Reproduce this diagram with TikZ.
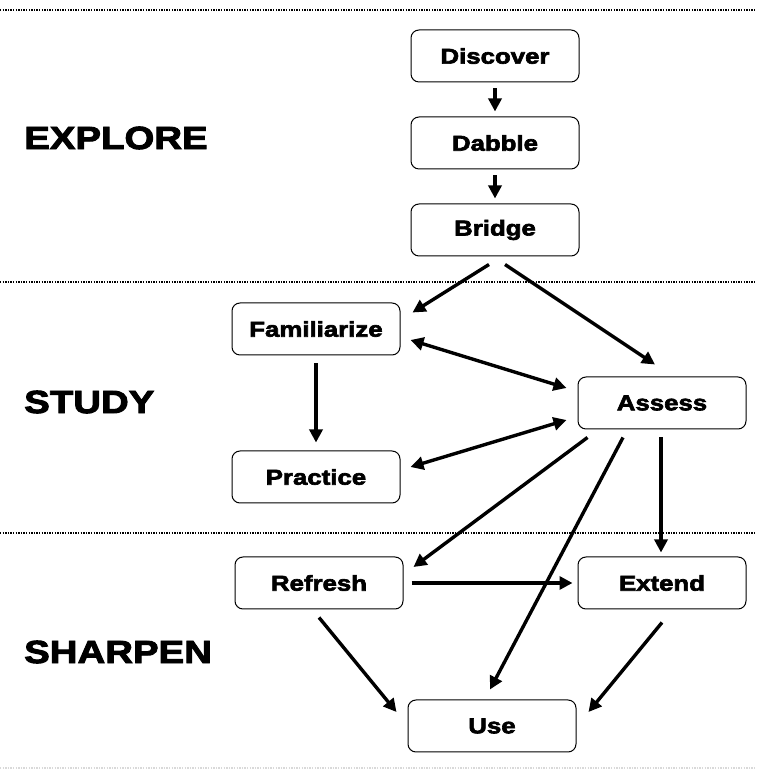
\documentclass[tikz,border=0pt]{standalone}
\usepackage{fontspec}
\usetikzlibrary{arrows.meta}
\newfontfamily\heavyfont{Liberation Sans Bold}[FakeStretch=1.2,FakeBold=3]
\tikzset{
  stagebox/.style={draw, line width=1pt, rounded corners=8pt, minimum width=168pt,
    minimum height=52pt, inner sep=0pt, font=\heavyfont\fontsize{21.5}{25}\selectfont},
  phaselabel/.style={anchor=west, inner sep=0pt, font=\heavyfont\fontsize{32}{36}\selectfont},
  flow/.style={line width=3.4pt, -{Triangle[length=13pt,width=13pt]}},
  twoway/.style={line width=3.4pt, {Triangle[length=13pt,width=13pt]}-{Triangle[length=13pt,width=13pt]}},
  divider/.style={line width=1.4pt, dash pattern=on 1.3pt off 1.3pt}
}
\begin{document}
\begin{tikzpicture}[x=1pt,y=1pt]
    \useasboundingbox (0,0) rectangle (756,771);

    % Dividers between the phases
    \draw[divider] (0,761) -- (756,761);
    \draw[divider] (0,489) -- (756,489);
    \draw[divider] (0,238) -- (756,238);
    \draw[divider, black!15] (0,3) -- (756,3);

    % Phase labels
    \node[phaselabel] (explore) at (24,633) {EXPLORE};
    \node[phaselabel] (study) at (24,369) {STUDY};
    \node[phaselabel] (sharpen) at (24,119) {SHARPEN};

    % Explore stages
    \node[stagebox] (discover) at (495,715) {Discover};
    \node[stagebox] (dabble) at (495,628) {Dabble};
    \node[stagebox] (bridge) at (495,541) {Bridge};

    % Study stages
    \node[stagebox] (familiarize) at (316,442) {Familiarize};
    \node[stagebox] (assess) at (662,368) {Assess};
    \node[stagebox] (practice) at (316,294) {Practice};

    % Sharpen stages
    \node[stagebox] (refresh) at (319,188) {Refresh};
    \node[stagebox] (extend) at (662,188) {Extend};
    \node[stagebox] (use) at (492,45) {Use};

    % Arrows
    \draw[flow, shorten <=6pt, shorten >=5pt] (discover) -- (dabble);
    \draw[flow, shorten <=6pt, shorten >=5pt] (dabble) -- (bridge);
    \draw[flow] ([xshift=-6pt,yshift=-8pt]bridge.south) -- ([xshift=12pt,yshift=-10pt]familiarize.north east);
    \draw[flow] ([xshift=10pt,yshift=-8pt]bridge.south) -- ([xshift=-7pt,yshift=12pt]assess.north);
    \draw[twoway] ([xshift=10pt,yshift=-11pt]familiarize.east) -- ([xshift=-11pt,yshift=15pt]assess.west);
    \draw[flow] ([yshift=-8pt]familiarize.south) -- ([yshift=8pt]practice.north);
    \draw[twoway] ([xshift=-11pt,yshift=-17pt]assess.west) -- ([xshift=10pt,yshift=10pt]practice.east);
    \draw[flow] ([xshift=10pt,yshift=-8pt]assess.south west) -- ([xshift=10pt,yshift=16pt]refresh.east);
    \draw[flow] ([xshift=-39pt,yshift=-8pt]assess.south) -- ([xshift=-2pt,yshift=10pt]use.north);
    \draw[flow] ([xshift=-1pt,yshift=-8pt]assess.south) -- ([xshift=-1pt,yshift=4pt]extend.north);
    \draw[flow] ([xshift=8pt]refresh.east) -- ([xshift=-5pt]extend.west);
    \draw[flow] ([yshift=-8pt]refresh.south) -- ([xshift=-11pt,yshift=14pt]use.west);
    \draw[flow] ([yshift=-13pt]extend.south) -- ([xshift=12pt,yshift=14pt]use.east);

\end{tikzpicture}
\end{document}
